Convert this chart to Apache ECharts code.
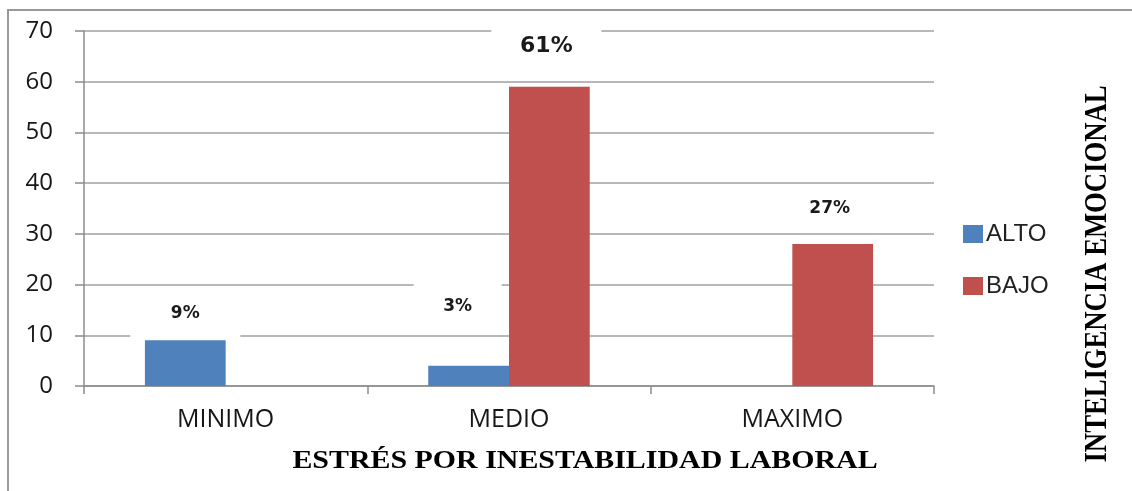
<!DOCTYPE html>
<html>
<head>
<meta charset="utf-8">
<script src="https://cdn.jsdelivr.net/npm/echarts@6/dist/echarts.min.js"></script>
<style>
html,body{margin:0;padding:0;background:#fff;}
#chart{width:1132px;height:491px;}
</style>
</head>
<body>
<div id="chart"></div>
<script>
var categories = ['MINIMO', 'MEDIO', 'MAXIMO'];
var altoValues = [9, 4, 0];
var bajoValues = [0, 59, 28];
var altoLabels = ['9%', '3%', ''];
var bajoLabels = ['', '61%', '27%'];
var xTitle = 'ESTRÉS POR INESTABILIDAD LABORAL';
var yTitle = 'INTELIGENCIA EMOCIONAL';

// label placement (style, not data)
var altoLabelStyle = [
  {offset: [0, -2], fontSize: 17, height: 50},
  {offset: [-11, -34], fontSize: 17, width: 88, height: 50},
  null
];
var bajoLabelStyle = [
  null,
  {offset: [-3, -18], fontSize: 22},
  {offset: [-3, -12], fontSize: 17}
];

function buildData(values, labels, styles) {
  return values.map(function (v, i) {
    var s = styles[i];
    if (!labels[i] || !s) {
      return {value: v, label: {show: false}};
    }
    return {
      value: v,
      label: {
        show: true,
        position: 'top',
        distance: 0,
        offset: s.offset,
        formatter: labels[i],
        fontFamily: 'DejaVu Sans',
        fontWeight: 'bold',
        fontSize: s.fontSize,
        color: '#1a1a1a',
        backgroundColor: '#fff',
        width: s.width || 110,
        height: s.height || 46,
        lineHeight: s.height || 46,
        align: 'center'
      }
    };
  });
}

var chart = echarts.init(document.getElementById('chart'));
chart.setOption({
  animation: false,
  backgroundColor: '#fff',
  grid: {left: 84, right: 198, top: 31, bottom: 105, containLabel: false},
  legend: {
    orient: 'vertical',
    left: 963,
    top: 222,
    padding: 0,
    itemWidth: 20,
    itemHeight: 18,
    itemGap: 28,
    icon: 'rect',
    textStyle: {fontFamily: 'Liberation Sans', fontSize: 24, color: '#222', padding: [0, 0, 0, -2]},
    data: ['ALTO', 'BAJO']
  },
  xAxis: {
    type: 'category',
    data: categories,
    axisLine: {lineStyle: {color: '#8c8c8c', width: 1.5}},
    axisTick: {show: true, length: 8, alignWithLabel: false, lineStyle: {color: '#8c8c8c', width: 1.5}},
    axisLabel: {margin: 21, fontFamily: 'Open Sans', fontSize: 25, color: '#161616'}
  },
  yAxis: {
    type: 'value',
    min: 0,
    max: 70,
    interval: 10,
    axisLine: {show: true, lineStyle: {color: '#8c8c8c', width: 1.5}},
    axisTick: {show: true, length: 9, lineStyle: {color: '#8c8c8c', width: 1.5}},
    axisLabel: {margin: 31, fontFamily: 'Open Sans', fontSize: 24, color: '#161616'},
    splitLine: {lineStyle: {color: '#a0a0a0', width: 1.5}}
  },
  series: [
    {
      name: 'ALTO',
      type: 'bar',
      barGap: '0%',
      barCategoryGap: '43%',
      itemStyle: {color: '#4F81BD'},
      z: 2,
      data: buildData(altoValues, altoLabels, altoLabelStyle)
    },
    {
      name: 'BAJO',
      type: 'bar',
      itemStyle: {color: '#C0504D'},
      z: 2,
      data: buildData(bajoValues, bajoLabels, bajoLabelStyle)
    }
  ],
  graphic: [
    {
      type: 'rect',
      silent: true,
      shape: {x: 8, y: 10, width: 1300, height: 700},
      style: {fill: 'none', stroke: '#9a9a9a', lineWidth: 2},
      z: -10
    },
    {
      type: 'text',
      x: 585,
      y: 461,
      scaleX: 1.15,
      style: {
        text: xTitle,
        fontFamily: 'Liberation Serif',
        fontWeight: 'bold',
        fontSize: 26,
        fill: '#000',
        textAlign: 'center',
        textVerticalAlign: 'middle'
      }
    },
    {
      type: 'text',
      x: 1098,
      y: 274,
      rotation: Math.PI / 2,
      scaleX: 0.86,
      style: {
        text: yTitle,
        fontFamily: 'Liberation Serif',
        fontWeight: 'bold',
        fontSize: 31,
        fill: '#000',
        textAlign: 'center',
        textVerticalAlign: 'middle'
      }
    }
  ]
});
</script>
</body>
</html>
